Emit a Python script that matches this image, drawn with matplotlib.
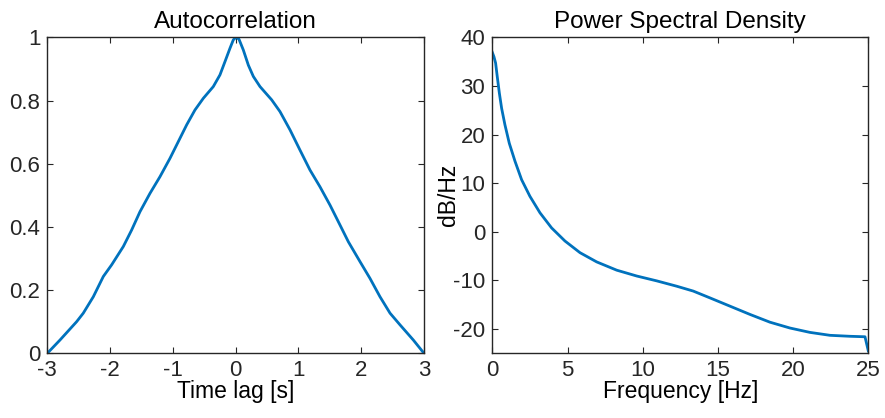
import matplotlib.pyplot as plt

plt.rcParams['font.family'] = ['Liberation Sans', 'DejaVu Sans']
plt.rcParams['axes.unicode_minus'] = False

# autocorrelation
lag = [-3.0, -2.798, -2.533, -2.427, -2.267, -2.108, -1.975, -1.789, -1.657,
       -1.524, -1.365, -1.205, -1.046, -0.913, -0.780, -0.648, -0.515, -0.356,
       -0.250, -0.170, -0.091, -0.037, 0.005, 0.053, 0.122, 0.202, 0.282,
       0.388, 0.574, 0.706, 0.866, 1.025, 1.184, 1.343, 1.503, 1.662, 1.795,
       1.981, 2.140, 2.299, 2.459, 2.618, 2.830, 3.0]
acorr = [0.0, 0.042, 0.100, 0.127, 0.179, 0.243, 0.280, 0.338, 0.390, 0.448,
         0.506, 0.559, 0.617, 0.670, 0.723, 0.770, 0.807, 0.844, 0.881, 0.923,
         0.965, 0.992, 1.0, 0.994, 0.960, 0.912, 0.876, 0.844, 0.802, 0.765,
         0.707, 0.643, 0.580, 0.527, 0.469, 0.406, 0.353, 0.290, 0.237, 0.179,
         0.127, 0.090, 0.042, 0.0]

# power spectral density in dB/Hz
freq = [0.0, 0.11, 0.22, 0.33, 0.47, 0.62, 0.84, 1.13, 1.51, 1.95, 2.50,
        3.17, 3.94, 4.83, 5.83, 6.94, 8.27, 9.60, 10.93, 12.26, 13.36, 14.47,
        15.80, 17.13, 18.46, 19.79, 21.12, 22.45, 23.78, 24.78, 25.0]
psd = [36.9, 36.0, 34.7, 31.9, 28.5, 25.4, 22.0, 18.2, 14.5, 10.7, 7.3,
       3.9, 0.8, -1.9, -4.3, -6.2, -7.9, -9.1, -10.1, -11.2, -12.2, -13.6,
       -15.3, -17.0, -18.6, -19.8, -20.7, -21.3, -21.5, -21.6, -24.5]

blue = '#0072BD'
dark = '#262626'
W, H = 885, 418

fig = plt.figure(figsize=(W / 100, H / 100), dpi=100)
ax1 = fig.add_axes([47.3 / W, (H - 353.3) / H, 376.7 / W, 316 / H])
ax2 = fig.add_axes([492.3 / W, (H - 353.3) / H, 376 / W, 316 / H])

ax1.plot(lag, acorr, color=blue, lw=2, solid_joinstyle='round')
ax1.set_xlim(-3, 3)
ax1.set_ylim(0, 1)
ax1.set_xticks(range(-3, 4))
ax1.set_yticks([0, 0.2, 0.4, 0.6, 0.8, 1])
ax1.set_yticklabels(['0', '0.2', '0.4', '0.6', '0.8', '1'])
ax1.set_title('Autocorrelation', fontsize=17.5, pad=7)
ax1.set_xlabel('Time lag [s]', fontsize=16.5, labelpad=-1)

ax2.plot(freq, psd, color=blue, lw=2, solid_joinstyle='round')
ax2.set_xlim(0, 25)
ax2.set_ylim(-25, 40)
ax2.set_xticks(range(0, 26, 5))
ax2.set_yticks(range(-20, 41, 10))
ax2.set_title('Power Spectral Density', fontsize=17.5, pad=7)
ax2.set_xlabel('Frequency [Hz]', fontsize=16.5, labelpad=-1)
ax2.set_ylabel('dB/Hz', fontsize=16.5)
ax2.yaxis.set_label_coords(-0.087, 0.5)

for ax in (ax1, ax2):
    for s in ax.spines.values():
        s.set_color(dark)
        s.set_linewidth(1)
    ax.tick_params(direction='in', length=4, top=True, right=True,
                   labelsize=16, colors=dark, pad=5)

fig.savefig('out.png', dpi=100)
